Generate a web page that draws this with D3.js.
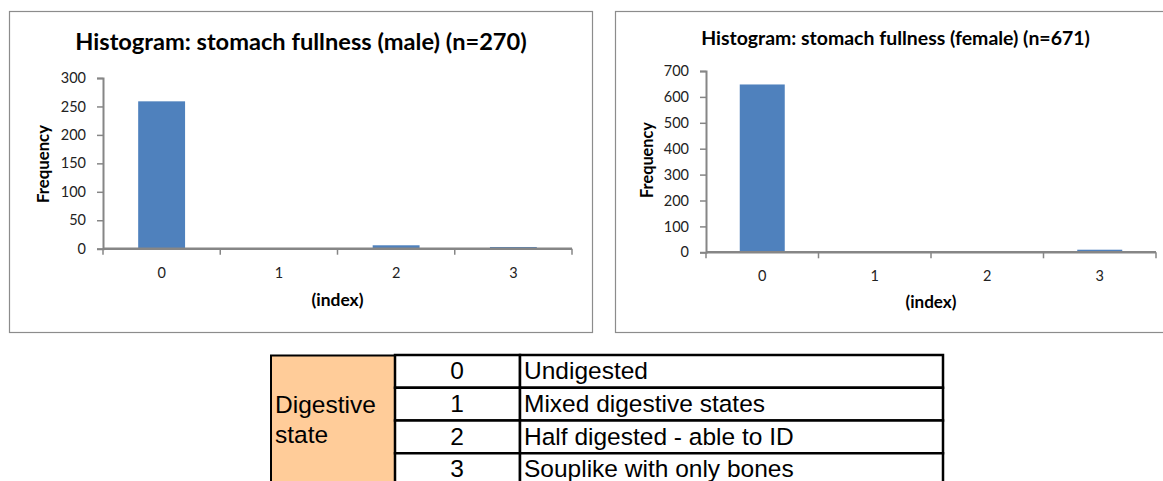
<!DOCTYPE html>
<html>
<head>
<meta charset="utf-8">
<script src="https://cdn.jsdelivr.net/npm/d3@7"></script>
<style>
  body { margin: 0; background: #fff; }
  svg { display: block; }
</style>
</head>
<body>
<div id="chart"></div>
<script>
// index categories and counts
const categories = ["0", "1", "2", "3"];
const maleCounts = [259, 0, 6, 3];
const femaleCounts = [648, 3, 5, 10];
const maleTicks = [0, 50, 100, 150, 200, 250, 300];
const femaleTicks = [0, 100, 200, 300, 400, 500, 600, 700];

// legend table
const stateCodes = ["0", "1", "2", "3"];
const stateNames = ["Undigested", "Mixed digestive states", "Half digested - able to ID", "Souplike with only bones"];

const svg = d3.select("#chart").append("svg")
    .attr("width", 1163)
    .attr("height", 481);

const axisColor = "#868686";
const barColor = "#4F81BD";
const font = "Lato, 'Open Sans', sans-serif";

// scale a text's font size so it spans the width seen in the reference
function fitWidth(sel, width) {
    const len = sel.node().getComputedTextLength();
    const size = parseFloat(sel.style("font-size"));
    if (len > 0) sel.style("font-size", (size * width / len) + "px");
}

function drawHistogram(cfg) {
    const g = svg.append("g");

    // panel border
    g.append("rect")
        .attr("x", cfg.box[0] + 0.5).attr("y", cfg.box[1] + 0.5)
        .attr("width", cfg.box[2]).attr("height", cfg.box[3])
        .attr("fill", "#fff").attr("stroke", "#8c8c8c").attr("stroke-width", 1.2);

    const x = d3.scaleBand()
        .domain(categories)
        .range([cfg.left, cfg.right])
        .paddingInner(0.6)
        .paddingOuter(0.3);

    const y = d3.scaleLinear()
        .domain([0, cfg.max])
        .range([cfg.bottom, cfg.top]);

    // bars
    g.selectAll(".bar")
        .data(cfg.values)
        .enter().append("rect")
        .attr("class", "bar")
        .attr("x", (d, i) => x(categories[i]))
        .attr("width", x.bandwidth())
        .attr("y", d => y(d))
        .attr("height", d => cfg.bottom - y(d))
        .attr("fill", barColor);

    // y axis
    const yAxis = d3.axisLeft(y).tickValues(cfg.ticks).tickSize(6).tickPadding(11);
    const ya = g.append("g")
        .attr("transform", "translate(" + cfg.left + ",0)")
        .call(yAxis);
    ya.select(".domain").attr("stroke", axisColor).attr("stroke-width", 2);
    ya.selectAll(".tick line").attr("stroke", axisColor).attr("stroke-width", 1.5);
    ya.selectAll(".tick text")
        .attr("fill", "#222").style("font-family", font).style("font-size", "14.5px");

    // x axis: labels centred, tick marks between categories
    const xAxis = d3.axisBottom(x).tickSize(0).tickPadding(cfg.xLabelPad);
    const xa = g.append("g")
        .attr("transform", "translate(0," + cfg.bottom + ")")
        .call(xAxis);
    xa.select(".domain").remove();
    xa.selectAll(".tick text")
        .attr("fill", "#222").style("font-family", font).style("font-size", "14.5px");

    xa.append("line")
        .attr("x1", cfg.left).attr("x2", cfg.right)
        .attr("stroke", axisColor).attr("stroke-width", 2.5);
    xa.selectAll(".sep")
        .data(d3.range(categories.length + 1))
        .enter().append("line")
        .attr("class", "sep")
        .attr("x1", i => cfg.left + i * x.step())
        .attr("x2", i => cfg.left + i * x.step())
        .attr("y1", 0).attr("y2", 6)
        .attr("stroke", axisColor).attr("stroke-width", 1.5);

    // titles
    const title = g.append("text")
        .attr("x", cfg.titleX).attr("y", cfg.titleY)
        .attr("text-anchor", "middle")
        .style("font-family", font).style("font-weight", "bold")
        .style("font-size", "20px")
        .text(cfg.title);
    fitWidth(title, cfg.titleW);

    const xt = g.append("text")
        .attr("x", (cfg.left + cfg.right) / 2).attr("y", cfg.xTitleY)
        .attr("text-anchor", "middle")
        .style("font-family", font).style("font-weight", "bold").style("font-size", "14px")
        .text("(index)");
    fitWidth(xt, cfg.xTitleW);

    const yt = g.append("text")
        .attr("transform", "translate(" + cfg.yTitleX + "," + cfg.yTitleY + ") rotate(-90)")
        .attr("text-anchor", "middle")
        .style("font-family", font).style("font-weight", "bold").style("font-size", "14px")
        .text("Frequency");
    fitWidth(yt, cfg.yTitleW);
}

drawHistogram({
    box: [9, 11, 583, 321],
    left: 103, right: 572, top: 78, bottom: 248.7,
    max: 300, ticks: maleTicks, values: maleCounts,
    title: "Histogram: stomach fullness (male) (n=270)",
    titleX: 301, titleY: 50, titleW: 452,
    xLabelPad: 19, xTitleY: 306, xTitleW: 52,
    yTitleX: 49, yTitleY: 164, yTitleW: 78
});

drawHistogram({
    box: [615, 11, 560, 321],
    left: 706, right: 1156, top: 71, bottom: 252.3,
    max: 700, ticks: femaleTicks, values: femaleCounts,
    title: "Histogram: stomach fullness (female) (n=671)",
    titleX: 895.5, titleY: 45, titleW: 389,
    xLabelPad: 18, xTitleY: 308, xTitleW: 51,
    yTitleX: 653, yTitleY: 160, yTitleW: 76
});

// legend table
const tbl = svg.append("g");
const rowY = d3.scaleBand().domain(stateCodes).range([355, 486]);
const tableFont = "'Liberation Sans', Arial, sans-serif";

tbl.append("rect")
    .attr("x", 271).attr("y", 355.5)
    .attr("width", 124).attr("height", 140)
    .attr("fill", "#FFCC99").attr("stroke", "#000").attr("stroke-width", 2);

tbl.append("text")
    .attr("x", 275).attr("y", 413)
    .style("font-family", tableFont).style("font-size", "24.5px")
    .text("Digestive");
tbl.append("text")
    .attr("x", 275).attr("y", 443)
    .style("font-family", tableFont).style("font-size", "24.5px")
    .text("state");

const rows = tbl.selectAll(".row")
    .data(stateCodes)
    .enter().append("g")
    .attr("class", "row")
    .attr("transform", d => "translate(0," + rowY(d) + ")");

rows.append("rect")
    .attr("x", 395).attr("width", 125).attr("height", rowY.bandwidth())
    .attr("fill", "#fff").attr("stroke", "#000").attr("stroke-width", 2.5);
rows.append("rect")
    .attr("x", 520).attr("width", 423).attr("height", rowY.bandwidth())
    .attr("fill", "#fff").attr("stroke", "#000").attr("stroke-width", 2.5);

rows.append("text")
    .attr("x", 457).attr("y", 24)
    .attr("text-anchor", "middle")
    .style("font-family", tableFont).style("font-size", "24.5px")
    .text(d => d);
rows.append("text")
    .attr("x", 524).attr("y", 24)
    .style("font-family", tableFont).style("font-size", "24.5px")
    .text((d, i) => stateNames[i]);
</script>
</body>
</html>
